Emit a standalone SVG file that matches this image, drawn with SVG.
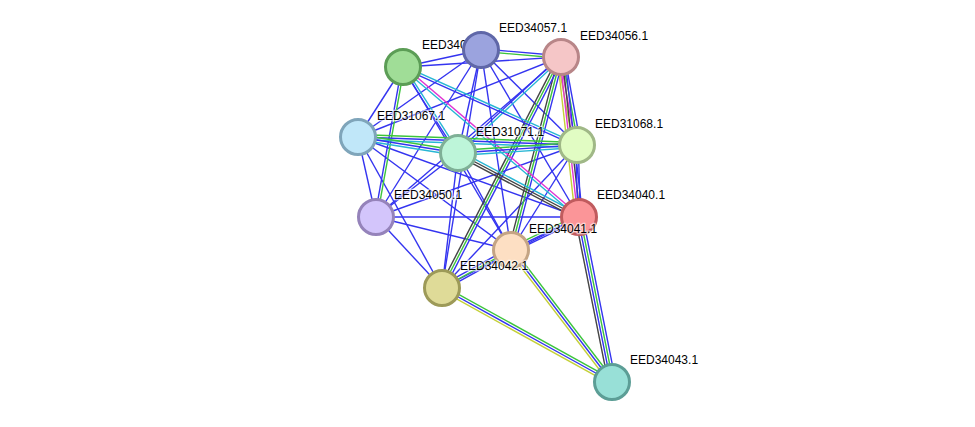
<svg xmlns="http://www.w3.org/2000/svg" width="975" height="427" viewBox="0 0 975 427">
  <style>
    .edges line { stroke-width: 1.4; fill: none; }
    .b { stroke: #3434f0; }
    .g { stroke: #3cc43c; }
    .c { stroke: #27b6d4; }
    .m { stroke: #e034d2; }
    .k { stroke: #444444; }
    .y { stroke: #c4d038; }
    .node circle { stroke-width: 3; }
    .node text { font-family: "Liberation Sans", Arial, sans-serif; font-size: 12px; fill: #000; stroke: #fff; stroke-width: 2.5; stroke-opacity: 0.6; paint-order: stroke; }
  </style>
  <rect width="975" height="427" fill="#fff"/>

  <g id="connectors" class="edges">
    <!-- single evidence lines -->
    <line class="b" x1="481" y1="50" x2="403" y2="67"/>
    <line class="b" x1="481" y1="50" x2="358" y2="137"/>
    <line class="b" x1="481" y1="50" x2="458" y2="153"/>
    <line class="b" x1="481" y1="50" x2="577" y2="145"/>
    <line class="b" x1="481" y1="50" x2="579" y2="217"/>
    <line class="b" x1="481" y1="50" x2="376" y2="217"/>
    <line class="b" x1="481" y1="50" x2="511" y2="250"/>
    <line class="b" x1="481" y1="50" x2="442" y2="288"/>
    <line class="b" x1="561" y1="57" x2="403" y2="67"/>
    <line class="b" x1="561" y1="57" x2="358" y2="137"/>
    <line class="b" x1="561" y1="57" x2="376" y2="217"/>
    <line class="b" x1="403" y1="67" x2="358" y2="137"/>
    <line class="b" x1="403" y1="67" x2="511" y2="250"/>
    <line class="b" x1="358" y1="137" x2="579" y2="217"/>
    <line class="b" x1="358" y1="137" x2="376" y2="217"/>
    <line class="b" x1="358" y1="137" x2="511" y2="250"/>
    <line class="b" x1="358" y1="137" x2="442" y2="288"/>
    <line class="b" x1="458" y1="153" x2="376" y2="217"/>
    <line class="b" x1="458" y1="153" x2="511" y2="250"/>
    <line class="b" x1="458" y1="153" x2="442" y2="288"/>
    <line class="b" x1="577" y1="145" x2="376" y2="217"/>
    <line class="b" x1="577" y1="145" x2="511" y2="250"/>
    <line class="b" x1="577" y1="145" x2="442" y2="288"/>
    <line class="b" x1="579" y1="217" x2="376" y2="217"/>
    <line class="b" x1="579" y1="217" x2="442" y2="288"/>
    <line class="b" x1="376" y1="217" x2="511" y2="250"/>
    <line class="b" x1="376" y1="217" x2="442" y2="288"/>

    <!-- EED34057.1 - EED34056.1 -->
    <line class="b" x1="481.1" y1="48.8" x2="561.1" y2="55.8"/>
    <line class="g" x1="480.9" y1="51.3" x2="560.9" y2="58.3"/>
    <!-- EED34056.1 - EED31071.1 -->
    <line class="c" x1="561.9" y1="57.9" x2="458.9" y2="153.9"/>
    <line class="b" x1="560.2" y1="56.1" x2="457.2" y2="152.1"/>
    <!-- EED34056.1 - EED31068.1 -->
    <line class="y" x1="557.3" y1="57.7" x2="573.3" y2="145.7"/>
    <line class="m" x1="559.8" y1="57.2" x2="575.8" y2="145.2"/>
    <line class="g" x1="562.2" y1="56.8" x2="578.2" y2="144.8"/>
    <line class="b" x1="564.7" y1="56.3" x2="580.7" y2="144.3"/>
    <!-- EED34056.1 - EED34040.1 -->
    <line class="y" x1="557.3" y1="57.4" x2="575.3" y2="217.4"/>
    <line class="m" x1="559.8" y1="57.1" x2="577.8" y2="217.1"/>
    <line class="k" x1="562.2" y1="56.9" x2="580.2" y2="216.9"/>
    <line class="b" x1="564.7" y1="56.6" x2="582.7" y2="216.6"/>
    <!-- EED31068.1 - EED34040.1 -->
    <line class="b" x1="575.8" y1="145" x2="577.8" y2="217"/>
    <line class="b" x1="578.3" y1="145" x2="580.3" y2="217"/>
    <!-- EED34056.1 - EED34041.1 -->
    <line class="k" x1="558.6" y1="56.4" x2="508.6" y2="249.4"/>
    <line class="g" x1="561" y1="57" x2="511" y2="250"/>
    <line class="b" x1="563.4" y1="57.6" x2="513.4" y2="250.6"/>
    <!-- EED34056.1 - EED34042.1 -->
    <line class="k" x1="558.8" y1="55.9" x2="439.8" y2="286.9"/>
    <line class="g" x1="561" y1="57" x2="442" y2="288"/>
    <line class="b" x1="563.2" y1="58.1" x2="444.2" y2="289.1"/>
    <!-- EED340.. - EED31071.1 -->
    <line class="b" x1="402" y1="67.7" x2="457" y2="153.7"/>
    <line class="c" x1="404.1" y1="66.3" x2="459.1" y2="152.3"/>
    <!-- EED340.. - EED31068.1 -->
    <line class="c" x1="403.5" y1="65.9" x2="577.5" y2="143.9"/>
    <line class="b" x1="402.5" y1="68.1" x2="576.5" y2="146.1"/>
    <!-- EED340.. - EED34040.1 -->
    <line class="m" x1="403.8" y1="66" x2="579.8" y2="216"/>
    <line class="c" x1="402.2" y1="68" x2="578.2" y2="218"/>
    <!-- EED340.. - EED34050.1 -->
    <line class="g" x1="404.2" y1="67.2" x2="377.2" y2="217.2"/>
    <line class="b" x1="401.8" y1="66.8" x2="374.8" y2="216.8"/>
    <!-- EED31067.1 - EED31068.1 -->
    <line class="g" x1="358.1" y1="134.5" x2="577.1" y2="142.5"/>
    <line class="b" x1="358" y1="137" x2="577" y2="145"/>
    <line class="c" x1="357.9" y1="139.5" x2="576.9" y2="147.5"/>
    <!-- EED31067.1 - EED31071.1 -->
    <line class="g" x1="358.4" y1="134.5" x2="458.4" y2="150.5"/>
    <line class="b" x1="358" y1="137" x2="458" y2="153"/>
    <line class="c" x1="357.6" y1="139.5" x2="457.6" y2="155.5"/>
    <!-- EED31071.1 - EED31068.1 -->
    <line class="g" x1="457.8" y1="150.5" x2="576.8" y2="142.5"/>
    <line class="b" x1="458" y1="153" x2="577" y2="145"/>
    <line class="c" x1="458.2" y1="155.5" x2="577.2" y2="147.5"/>
    <!-- EED31071.1 - EED34040.1 -->
    <line class="c" x1="459.2" y1="150.8" x2="580.2" y2="214.8"/>
    <line class="k" x1="458" y1="153" x2="579" y2="217"/>
    <line class="k" x1="456.8" y1="155.2" x2="577.8" y2="219.2"/>
    <!-- EED34040.1 - EED34041.1 -->
    <line class="g" x1="577.9" y1="214.8" x2="509.9" y2="247.8"/>
    <line class="b" x1="579" y1="217" x2="511" y2="250"/>
    <line class="b" x1="580.1" y1="219.3" x2="512.1" y2="252.3"/>
    <!-- EED34041.1 - EED34042.1 -->
    <line class="b" x1="509.8" y1="247.8" x2="440.8" y2="285.8"/>
    <line class="g" x1="511" y1="250" x2="442" y2="288"/>
    <line class="b" x1="512.2" y1="252.2" x2="443.2" y2="290.2"/>
    <!-- EED34040.1 - EED34043.1 -->
    <line class="k" x1="575.3" y1="217.7" x2="608.3" y2="382.7"/>
    <line class="b" x1="577.8" y1="217.2" x2="610.8" y2="382.2"/>
    <line class="g" x1="580.2" y1="216.8" x2="613.2" y2="381.8"/>
    <line class="b" x1="582.7" y1="216.3" x2="615.7" y2="381.3"/>
    <!-- EED34041.1 - EED34043.1 -->
    <line class="g" x1="513" y1="248.5" x2="614" y2="380.5"/>
    <line class="b" x1="511" y1="250" x2="612" y2="382"/>
    <line class="y" x1="509" y1="251.5" x2="610" y2="383.5"/>
    <!-- EED34042.1 - EED34043.1 -->
    <line class="g" x1="443.2" y1="285.8" x2="613.2" y2="379.8"/>
    <line class="b" x1="442" y1="288" x2="612" y2="382"/>
    <line class="y" x1="440.8" y1="290.2" x2="610.8" y2="384.2"/>
  </g>

  <g id="n-eed340" class="node">
    <circle cx="403" cy="67" r="17.5" fill="#a0dd97" stroke="#5c9d56"/>
    <text x="422" y="49">EED340</text>
  </g>
  <g id="n-eed34057" class="node">
    <circle cx="481" cy="50" r="17.5" fill="#9ba3de" stroke="#5f67a8"/>
    <text x="499" y="32">EED34057.1</text>
  </g>
  <g id="n-eed34056" class="node">
    <circle cx="561" cy="57" r="17.5" fill="#f5c6c7" stroke="#b88688"/>
    <text x="580" y="40">EED34056.1</text>
  </g>
  <g id="n-eed31067" class="node">
    <circle cx="358" cy="137" r="17.5" fill="#c0e7f9" stroke="#7fa5ba"/>
    <text x="377" y="120">EED31067.1</text>
  </g>
  <g id="n-eed31071" class="node">
    <circle cx="458" cy="153" r="17.5" fill="#bdf5d9" stroke="#7fb096"/>
    <text x="476" y="136">EED31071.1</text>
  </g>
  <g id="n-eed31068" class="node">
    <circle cx="577" cy="145" r="17.5" fill="#e1fcc3" stroke="#a0b887"/>
    <text x="595" y="128">EED31068.1</text>
  </g>
  <g id="n-eed34050" class="node">
    <circle cx="376" cy="217" r="17.5" fill="#d3c5fb" stroke="#9583ba"/>
    <text x="394" y="199">EED34050.1</text>
  </g>
  <g id="n-eed34040" class="node">
    <circle cx="579" cy="217" r="17.5" fill="#fb9598" stroke="#c05b5e"/>
    <text x="597" y="199">EED34040.1</text>
  </g>
  <g id="n-eed34041" class="node">
    <circle cx="511" cy="250" r="17.5" fill="#fddfc3" stroke="#c4a484"/>
    <text x="529" y="233">EED34041.1</text>
  </g>
  <g id="n-eed34042" class="node">
    <circle cx="442" cy="288" r="17.5" fill="#dfdb98" stroke="#9d9a58"/>
    <text x="460" y="270">EED34042.1</text>
  </g>
  <g id="n-eed34043" class="node">
    <circle cx="612" cy="382" r="17.5" fill="#98e0d7" stroke="#5c9e96"/>
    <text x="630" y="364">EED34043.1</text>
  </g>
</svg>
